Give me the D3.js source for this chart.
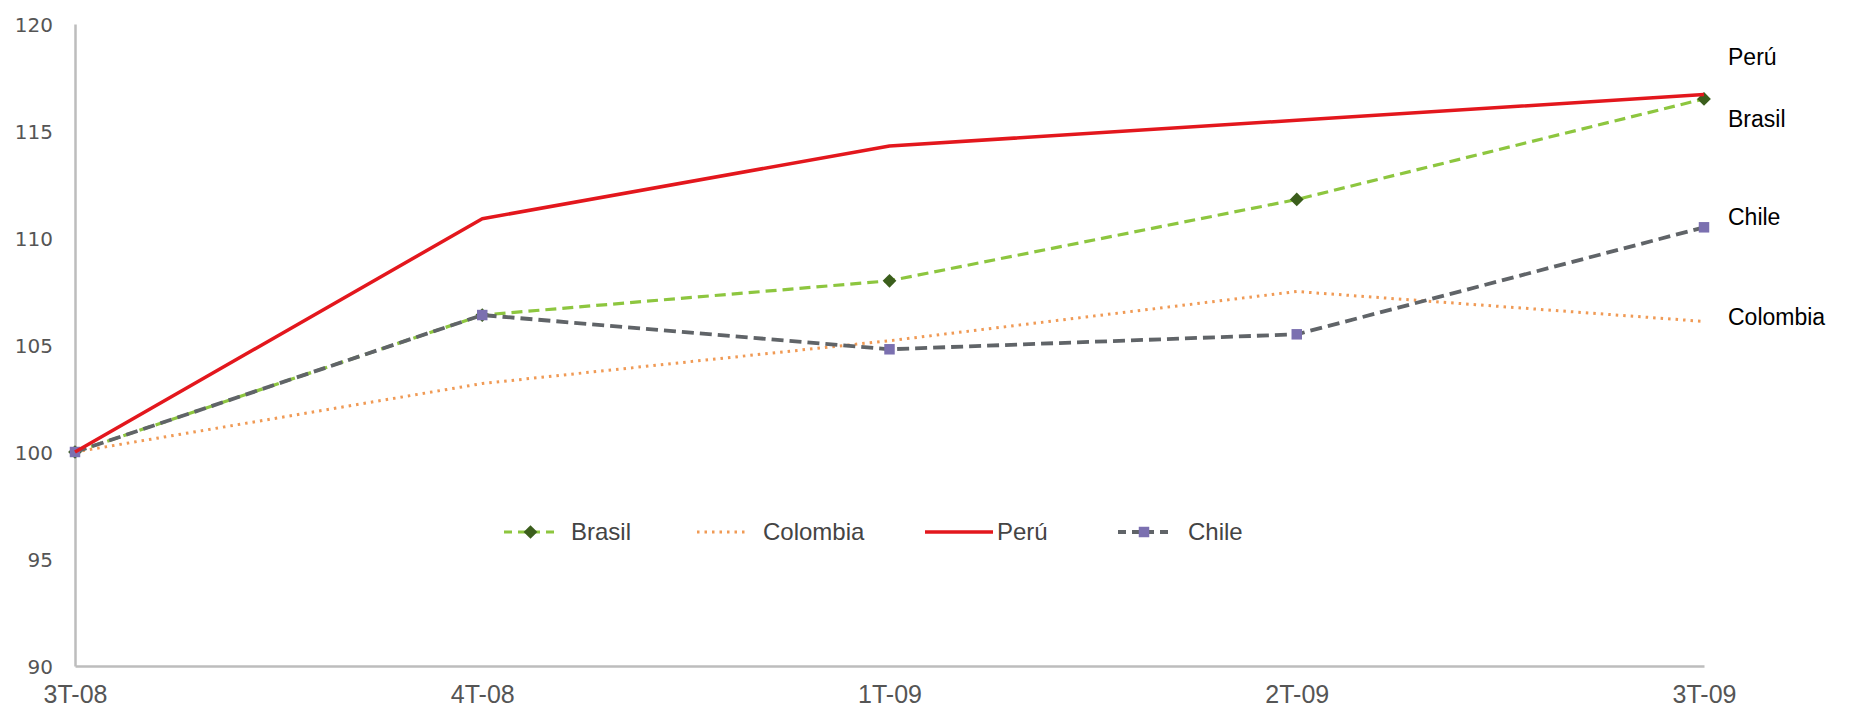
<!DOCTYPE html>
<html>
<head>
<meta charset="utf-8">
<script src="https://cdn.jsdelivr.net/npm/d3@7"></script>
<style>
  body { margin: 0; background: #fff; }
  svg { display: block; }
</style>
</head>
<body>
<svg id="chart" width="1859" height="716"></svg>
<script>
// data
var quarters = ["3T-08", "4T-08", "1T-09", "2T-09", "3T-09"];
var brasil   = [100, 106.4, 108.0, 111.8, 116.5];
var colombia = [100, 103.2, 105.2, 107.5, 106.1];
var peru     = [100, 110.9, 114.3, 115.5, 116.7];
var chile    = [100, 106.4, 104.8, 105.5, 110.5];
var yTicks   = [90, 95, 100, 105, 110, 115, 120];

var svg = d3.select("#chart");

var x = d3.scalePoint().domain(quarters).range([75, 1704]);
var y = d3.scaleLinear().domain([90, 120]).range([666, 24]);

var series = [
  {name: "Brasil",   values: brasil,   color: "#8dc63f", width: 3.2, dash: "11,6", marker: "diamond", mcolor: "#3b5e1c"},
  {name: "Colombia", values: colombia, color: "#f09a55", width: 3,   dash: "2.5,5", marker: null},
  {name: "Perú",     values: peru,     color: "#e3171d", width: 3.5, dash: null,   marker: null},
  {name: "Chile",    values: chile,    color: "#606468", width: 3.8, dash: "12,6", marker: "square", mcolor: "#7b70b0"}
];

// axes
var yAxis = svg.append("g")
  .attr("transform", "translate(75,0)")
  .call(d3.axisLeft(y).tickValues(yTicks).tickSize(0).tickPadding(22));
var xAxis = svg.append("g")
  .attr("transform", "translate(0,666)")
  .call(d3.axisBottom(x).tickSize(0).tickPadding(26));

[yAxis, xAxis].forEach(function(a) {
  a.select(".domain").attr("stroke", "#bdbdbd").attr("stroke-width", 2.5);
  a.selectAll("text").attr("fill", "#555");
});
yAxis.selectAll("text")
  .attr("dy", "0.35em")
  .style("font-family", "'DejaVu Sans', sans-serif")
  .style("font-size", "20px");
xAxis.selectAll("text")
  .attr("dy", "0.45em")
  .style("font-family", "'Liberation Sans Narrow', 'Liberation Sans', Arial, sans-serif")
  .style("font-size", "25px");

var line = d3.line()
  .x(function(d, i) { return x(quarters[i]); })
  .y(function(d) { return y(d); });

var symbolFor = {
  diamond: d3.symbol().type(d3.symbolDiamond2).size(120),
  square: d3.symbol().type(d3.symbolSquare).size(110)
};

// lines (Colombia first, then others on top)
var order = [1, 0, 3, 2];
order.forEach(function(k) {
  var s = series[k];
  svg.append("path")
    .datum(s.values)
    .attr("d", line)
    .attr("fill", "none")
    .attr("stroke", s.color)
    .attr("stroke-width", s.width)
    .attr("stroke-dasharray", s.dash)
    .attr("stroke-linejoin", "round");
  if (s.marker) {
    svg.selectAll(".m" + k)
      .data(s.values)
      .enter()
      .append("path")
      .attr("class", "m" + k)
      .attr("d", symbolFor[s.marker])
      .attr("transform", function(d, i) { return "translate(" + x(quarters[i]) + "," + y(d) + ")"; })
      .attr("fill", s.mcolor);
  }
});

// legend
var legendX = [504, 697, 925, 1118];
var legendLen = [53, 52, 68, 56];
var legend = svg.selectAll(".legend")
  .data(series)
  .enter()
  .append("g")
  .attr("class", "legend")
  .attr("transform", function(d, i) { return "translate(" + legendX[i] + ",532)"; });

legend.append("line")
  .attr("x1", 0)
  .attr("x2", function(d, i) { return legendLen[i]; })
  .attr("stroke", function(d) { return d.color; })
  .attr("stroke-width", function(d) { return d.width; })
  .attr("stroke-dasharray", function(d) { return d.dash ? (d.dash === "2.5,5" ? "2.5,5" : "8,6") : null; });

legend.filter(function(d) { return d.marker; })
  .append("path")
  .attr("d", function(d) { return symbolFor[d.marker](); })
  .attr("transform", function(d, i) { return "translate(" + legendLen[i] / 2 + ",0)"; })
  .attr("fill", function(d) { return d.mcolor; });

legend.append("text")
  .attr("x", function(d, i) { return legendLen[i] + (i === 2 ? 4 : 14); })
  .attr("dy", "0.35em")
  .attr("fill", "#444")
  .style("font-family", "'Liberation Sans Narrow', 'Liberation Sans', Arial, sans-serif")
  .style("font-size", "24px")
  .text(function(d) { return d.name; });

// end labels at the right
var endLabels = ["Perú", "Brasil", "Chile", "Colombia"];
var endLabelY = [65, 127, 225, 325];
svg.selectAll(".endlabel")
  .data(endLabels)
  .enter()
  .append("text")
  .attr("class", "endlabel")
  .attr("x", 1728)
  .attr("y", function(d, i) { return endLabelY[i]; })
  .attr("fill", "#000")
  .style("font-family", "'Liberation Sans', Arial, sans-serif")
  .style("font-size", "23px")
  .text(function(d) { return d; });
</script>
</body>
</html>
